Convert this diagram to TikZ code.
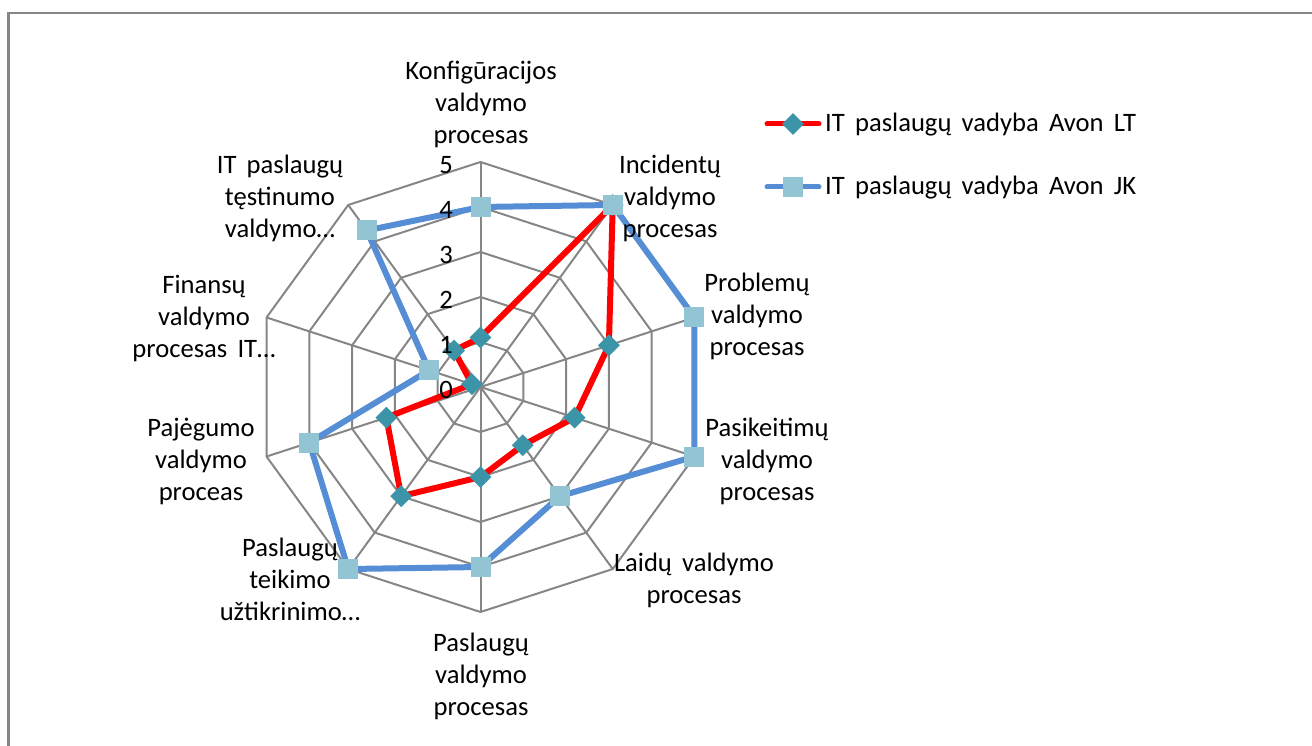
\documentclass[tikz,border=0pt]{standalone}
\usepackage{fontspec}
\setmainfont{Carlito}[WordSpace=1.7]
\usetikzlibrary{shapes.geometric}
\definecolor{gridgray}{RGB}{134,134,134}
\definecolor{ltred}{RGB}{255,0,0}
\definecolor{ltteal}{RGB}{60,148,168}
\definecolor{jkblue}{RGB}{85,142,213}
\definecolor{jklight}{RGB}{147,196,212}
\begin{document}
\begin{tikzpicture}[x=1pt,y=1pt,
  font=\fontsize{26.6}{32}\selectfont,
  frame/.style={draw=gridgray,line width=2.2pt},
  grid/.style={draw=gridgray,line width=2pt},
  ltline/.style={draw=ltred,line width=6pt,line join=round},
  jkline/.style={draw=jkblue,line width=6pt,line join=round},
  ltmark/.style={shape=diamond,fill=ltteal,inner sep=0pt,minimum size=22pt},
  jkmark/.style={shape=rectangle,fill=jklight,inner sep=0pt,minimum size=20pt},
  lbl/.style={align=center,inner sep=0pt},
  tick/.style={anchor=east,inner sep=0pt}]
\useasboundingbox (0,0) rectangle (1312,745);

% chart area frame (only its top and left edges fall on the page)
\begin{scope}
  \clip (0,0) rectangle (1312,745);
  \draw[frame] (8.5,-30) rectangle (1340,732);
\end{scope}

% radar grid
\begin{scope}[shift={(480.5pt,358pt)}]
  \coordinate (O) at (0,0);
  \foreach \i in {0,...,9}
    \coordinate (ax\i) at ({90-36*\i}:225);
  \foreach \k in {1,...,5}
    \draw[grid] (90:{45*\k}) \foreach \i in {1,...,9}{ -- ({90-36*\i}:{45*\k}) } -- cycle;
  \foreach \i in {0,...,9}
    \draw[grid] (O) -- (ax\i);

  % series: IT paslaugu vadyba Avon LT
  \foreach \v [count=\i from 0] in {1.1,5,3,2.2,1.6,2,3,2.2,0.2,1}
    \coordinate (lt\i) at ({90-36*\i}:{45*\v});
  \draw[ltline] (lt0) \foreach \i in {1,...,9}{ -- (lt\i) } -- cycle;
  \foreach \i in {0,...,9}
    \node[ltmark] (ltm\i) at (lt\i) {};

  % series: IT paslaugu vadyba Avon JK
  \foreach \v [count=\i from 0] in {4,5,5,5,3,4,5,4,1.2,4.3}
    \coordinate (jk\i) at ({90-36*\i}:{45*\v});
  \draw[jkline] (jk0) \foreach \i in {1,...,9}{ -- (jk\i) } -- cycle;
  \foreach \i in {0,...,9}
    \node[jkmark] (jkm\i) at (jk\i) {};
\end{scope}

% scale values
\foreach \k in {0,...,5}
  \node[tick] (t\k) at (453,{355+45*\k}) {\k};

% category labels
\node[lbl] (c0) at (481,641) {Konfigūracijos\\valdymo\\procesas};
\node[lbl] (c1) at (670,547) {Incidentų\\valdymo\\procesas};
\node[lbl] (c2) at (757,429) {Problemų\\valdymo\\procesas};
\node[lbl] (c3) at (767,284) {Pasikeitimų\\valdymo\\procesas};
\node[lbl] (c4) at (694,165) {Laidų valdymo\\procesas};
\node[lbl] (c5) at (481,69) {Paslaugų\\valdymo\\procesas};
\node[lbl] (c6) at (290,166) {Paslaugų\\teikimo\\užtikrinimo…};
\node[lbl] (c7) at (201,284) {Pajėgumo\\valdymo\\proceas};
\node[lbl] (c8) at (204,427) {Finansų\\valdymo\\procesas IT…};
\node[lbl] (c9) at (280,547) {IT paslaugų\\tęstinumo\\valdymo…};

% legend
\coordinate (la) at (767,621);
\coordinate (lb) at (819,621);
\draw[ltline,line width=5pt,line cap=round] (la) -- (lb);
\node[ltmark] (lm) at (793,621) {};
\node[anchor=base west,inner sep=0pt] (lt) at (825,613) {IT paslaugų vadyba Avon LT};

\coordinate (ja) at (767,558);
\coordinate (jb) at (819,558);
\draw[jkline,line width=5pt,line cap=round] (ja) -- (jb);
\node[jkmark] (jm) at (793,558) {};
\node[anchor=base west,inner sep=0pt] (jt) at (825,550) {IT paslaugų vadyba Avon JK};
\end{tikzpicture}
\end{document}
